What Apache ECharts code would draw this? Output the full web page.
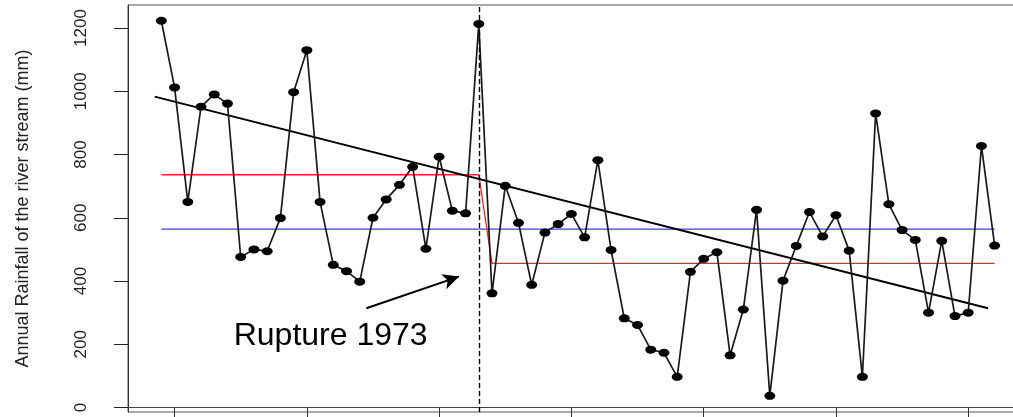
<!DOCTYPE html>
<html>
<head>
<meta charset="utf-8">
<script src="https://cdn.jsdelivr.net/npm/echarts@6/dist/echarts.min.js"></script>
<style>
html,body{margin:0;padding:0;background:#fff;}
#chart{width:1013px;height:417px;}
</style>
</head>
<body>
<div id="chart"></div>
<script>
// ---- data ----
const years = [1949,1950,1951,1952,1953,1954,1955,1956,1957,1958,1959,1960,1961,1962,1963,1964,1965,1966,1967,1968,1969,1970,1971,1972,1973,1974,1975,1976,1977,1978,1979,1980,1981,1982,1983,1984,1985,1986,1987,1988,1989,1990,1991,1992,1993,1994,1995,1996,1997,1998,1999,2000,2001,2002,2003,2004,2005,2006,2007,2008,2009,2010,2011,2012];
const rainfall = [1223,1012,650,951,990,961,476,500,494,599,997,1130,650,451,431,398,600,658,704,761,502,793,622,614,1213,361,701,584,388,553,580,612,538,782,498,282,261,183,173,97,429,470,491,165,310,625,37,401,511,618,541,608,496,97,930,643,561,530,300,527,289,300,827,512];
const ruptureYear = 1973;
const meanBefore = 736;
const meanAfter = 456;
const meanAll = 564;
const trendX = [1948.5, 2011.5];
const trendY = [983, 314];
const arrowX = [1964.5, 1971.5];
const arrowY = [314, 414];
const labelPos = [1961.8, 226];
const labelText = 'Rupture 1973';
const yTicks = [0,200,400,600,800,1000,1200];
const xTicks = [1950,1960,1970,1980,1990,2000,2010];
const yTitle = 'Annual Rainfall of the river stream (mm)';

const mainData = years.map((y,i)=>[y, rainfall[i]]);
const firstYear = years[0], lastYear = years[years.length-1];
const afterYear = years[years.indexOf(ruptureYear)+1];
const redData = [[firstYear,meanBefore],[ruptureYear,meanBefore],[afterYear,meanAfter],[lastYear,meanAfter]];
const blueData = [[firstYear,meanAll],[lastYear,meanAll]];
const trendData = trendX.map((x,i)=>[x,trendY[i]]);

const chart = echarts.init(document.getElementById('chart'), null, {renderer:'canvas'});
const sans = '"Liberation Sans", Arial, sans-serif';
chart.setOption({
  animation:false,
  backgroundColor:'#fff',
  grid:{left:128, top:5, width:900, height:407, show:true, borderColor:'#555', borderWidth:1, outerBoundsMode:'none', containLabel:false},
  xAxis:{type:'value', min:1946.48, max:2014.52,
    axisLine:{show:true, lineStyle:{color:'#444', width:1}},
    axisTick:{show:true, inside:false, length:10, customValues:xTicks, lineStyle:{color:'#333', width:1}},
    axisLabel:{show:false},
    splitLine:{show:false}},
  yAxis:{type:'value', min:-14.2, max:1272.7,
    name:yTitle, nameLocation:'middle', nameGap:96, nameRotate:90,
    nameTextStyle:{fontFamily:sans, fontSize:18, color:'#222'},
    axisLine:{show:true, lineStyle:{color:'#333', width:1}},
    axisTick:{show:true, inside:false, length:14, customValues:yTicks, lineStyle:{color:'#222', width:1}},
    axisLabel:{show:true, rotate:90, margin:38, customValues:yTicks, formatter:function(v){return String(v);}, fontFamily:sans, fontSize:17, color:'#222'},
    splitLine:{show:false}},
  series:[
    {type:'line', data:blueData, symbol:'none', lineStyle:{color:'#3a3aff', width:1.3}, z:2, silent:true},
    {type:'line', data:redData, symbol:'none', lineStyle:{color:'#ff2020', width:1.3}, z:2, silent:true},
    {type:'line', data:trendData, symbol:'none', lineStyle:{color:'#000', width:2}, z:3, silent:true},
    {type:'line', data:mainData, symbol:'circle', symbolSize:[11,8], itemStyle:{color:'#000'},
      lineStyle:{color:'#1a1a1a', width:1.7}, z:4, clip:false,
      markLine:{silent:true, symbol:'none', label:{show:false},
        lineStyle:{color:'#000', type:[5,3], width:1.4},
        data:[{xAxis:ruptureYear}]}
    },
    {type:'line', data:[], symbol:'none',
      markLine:{silent:true, symbol:['none','arrow'], symbolSize:[12,16], label:{show:false},
        lineStyle:{color:'#000', type:'solid', width:2},
        data:[[{coord:[arrowX[0],arrowY[0]]},{coord:[arrowX[1],arrowY[1]]}]]},
      markPoint:{silent:true, symbol:'circle', symbolSize:0,
        label:{show:true, position:'inside', formatter:labelText, fontFamily:sans, fontSize:32, color:'#000'},
        data:[{coord:labelPos}]}
    }
  ]
});
</script>
</body>
</html>
